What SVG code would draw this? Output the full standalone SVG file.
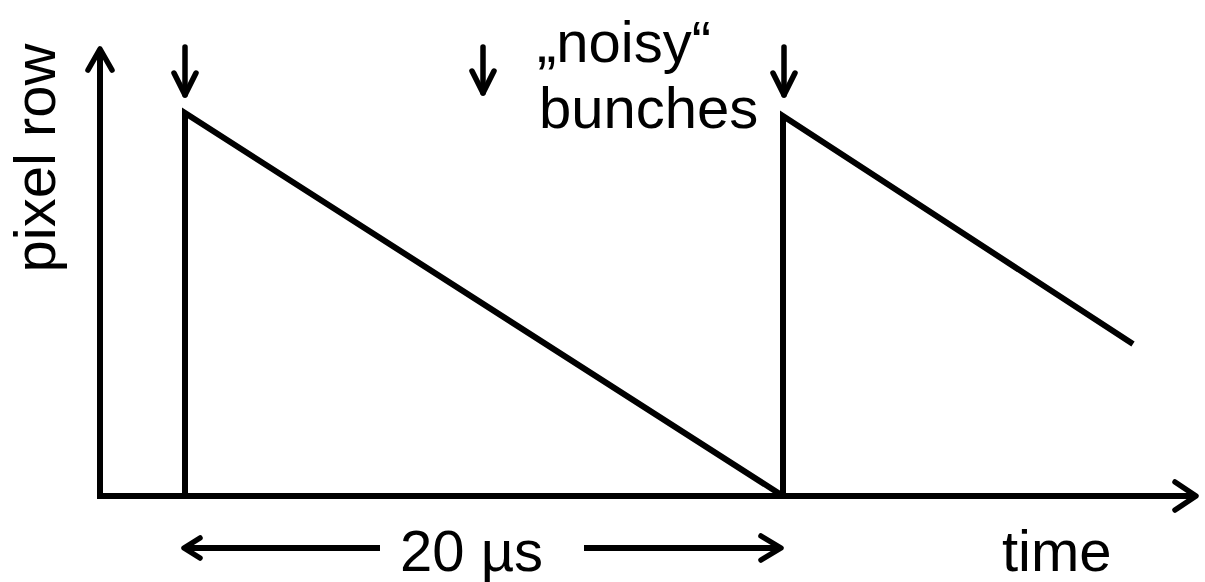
<svg xmlns="http://www.w3.org/2000/svg" width="1205" height="582" viewBox="0 0 1205 582">
<style>
.ln{fill:none;stroke:#000;stroke-width:6;stroke-linejoin:miter}
.ar{fill:none;stroke:#000;stroke-width:5.5;stroke-linecap:round;stroke-linejoin:round}
.t{font-family:"Liberation Sans",Arial,sans-serif;font-size:58px;fill:#000}
</style>
<rect width="1205" height="582" fill="#fff"/>
<g id="connectors">
<g id="y-axis"><path class="ln" d="M100,499 V50"/><polyline class="ar" points="88,70 100,49 112,70"/></g>
<g id="x-axis"><path class="ln" d="M97,496 H1194"/><polyline class="ar" points="1175,482 1196,496 1175,510"/></g>
<g id="signal">
<polyline class="ln" points="185,496 185,113 783,496"/>
<polyline class="ln" points="783,496 783,116 1133,344"/>
</g>
<g id="bunch-arrows">
<path class="ar" d="M185,47 V95"/><polyline class="ar" points="174,73 185,95 196,73"/>
<path class="ar" d="M483,47 V93"/><polyline class="ar" points="472,71 483,93 494,71"/>
<path class="ar" d="M784,47 V95"/><polyline class="ar" points="773,73 784,95 795,73"/>
</g>
<g id="period-arrow">
<path class="ln" d="M186,548 H380"/><polyline class="ar" points="200,538 184,548 200,558"/>
<path class="ln" d="M584,548 H780"/><polyline class="ar" points="761,536 781,548 761,560"/>
</g>
</g>
<g id="labels">
<text id="ylabel" class="t" transform="translate(55,158) rotate(-90)" text-anchor="middle">pixel row</text>
<text id="noisy" class="t" x="537" y="62">„noisy“</text>
<text id="bunches" class="t" x="539" y="128">bunches</text>
<text id="period" class="t" x="400" y="571">20 µs</text>
<text id="time" class="t" x="1002" y="571">time</text>
</g>
</svg>
